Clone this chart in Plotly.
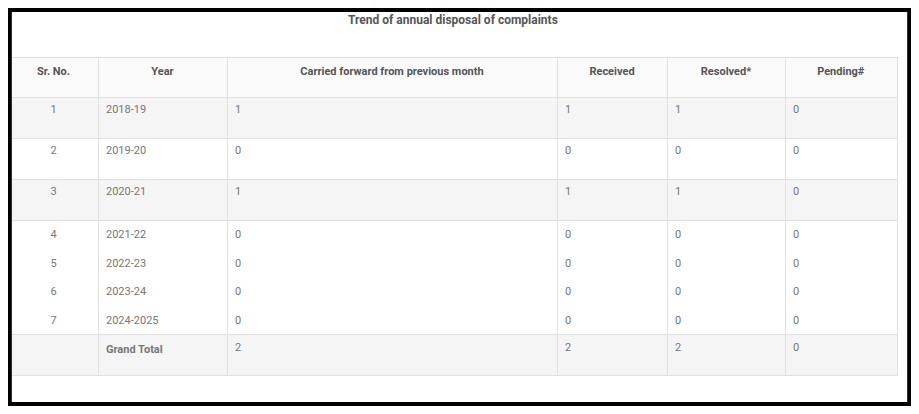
import plotly.graph_objects as go

headers = ["Sr. No.", "Year", "Carried forward from previous month", "Received", "Resolved*", "Pending#"]
sr_no = ["1", "2", "3", "4<br><br>5<br><br>6<br><br>7<br>", ""]
years = ["2018-19", "2019-20", "2020-21", "2021-22<br><br>2022-23<br><br>2023-24<br><br>2024-2025<br>", "<b>Grand Total</b>"]
carried = ["1", "0", "1", "0<br><br>0<br><br>0<br><br>0<br>", "2"]
received = ["1", "0", "1", "0<br><br>0<br><br>0<br><br>0<br>", "2"]
resolved = ["1", "0", "1", "0<br><br>0<br><br>0<br><br>0<br>", "2"]
pending = ["0", "0", "0", "0<br><br>0<br><br>0<br><br>0<br>", "0"]

W, H = 903, 398
row_fill = ["#f5f5f5", "#ffffff", "#f5f5f5", "#ffffff", "#f5f5f5"]

fig = go.Figure(go.Table(
    domain=dict(x=[1 / W, 889 / W], y=[0, 1 - 49 / H]),
    columnwidth=[89, 129, 330, 110, 118, 112],
    header=dict(values=[f"<b>{h}</b>" for h in headers], align="center", height=40,
                fill_color="#fafafa", line_color="#e0e0e0",
                font=dict(family="Roboto", size=11, color="#555555")),
    cells=dict(values=[sr_no, years, carried, received, resolved, pending],
               align=["center", "left", "left", "left", "left", "left"],
               height=41, fill_color=[row_fill] * 6, line_color="#e0e0e0",
               font=dict(family="Roboto", size=11, color="#777777")),
))
fig.add_annotation(text="<b>Trend of annual disposal of complaints</b>", x=445 / W, y=1 - 12 / H,
                   xref="paper", yref="paper", showarrow=False, yanchor="middle",
                   font=dict(family="Roboto", size=12, color="#555555"))
fig.add_shape(type="rect", xref="paper", yref="paper", x0=0.002, y0=0.005, x1=0.998, y1=0.995,
              line=dict(color="black", width=4))
fig.update_layout(width=W, height=H, margin=dict(l=0, r=0, t=0, b=0),
                  paper_bgcolor="white", plot_bgcolor="white")
fig.write_html("out.html")
